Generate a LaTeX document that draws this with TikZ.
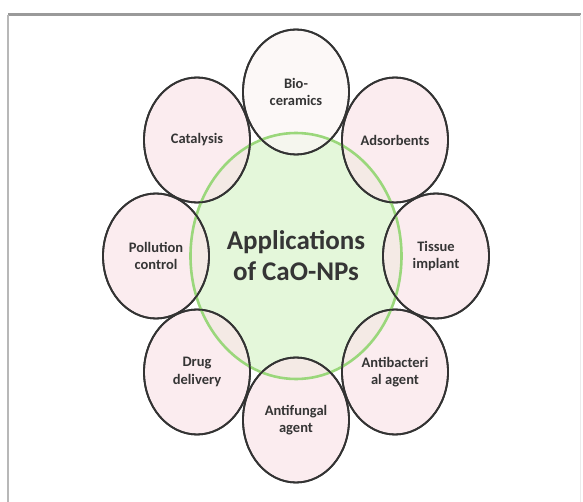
\documentclass[tikz,border=0pt]{standalone}
\usepackage{fontspec}
\setmainfont{Carlito}
\usetikzlibrary{shapes.geometric}
\definecolor{pinkfill}{HTML}{FAE6EA}
\definecolor{palefill}{HTML}{FCF6F5}
\definecolor{greenfill}{HTML}{E4F7DA}
\definecolor{greenline}{HTML}{9AD77B}
\definecolor{outline}{HTML}{333333}
\definecolor{txt}{HTML}{353535}
\definecolor{frametop}{HTML}{9A9A9A}
\definecolor{frameside}{HTML}{B8B8B8}
\definecolor{frameright}{HTML}{EBEBEB}
\tikzset{
  petal/.style={ellipse, minimum width=106pt, minimum height=125pt, inner sep=0pt,
    fill=pinkfill, fill opacity=0.75, text opacity=1, draw=outline, draw opacity=1,
    line width=1.8pt, text=txt, font=\fontsize{14.5}{17.5}\selectfont\bfseries, align=center},
  hub/.style={ellipse, minimum width=211pt, minimum height=246pt, inner sep=0pt,
    fill=greenfill}
}
\begin{document}
\begin{tikzpicture}[x=1pt,y=-1pt]
\useasboundingbox (0,0) rectangle (583,502);
\fill[white] (0,0) rectangle (583,502);
% frame
\draw[frametop, line width=3pt] (8,15) -- (581,15);
\draw[frameside, line width=1.6pt] (8,15) -- (8,502);
\draw[frameright, line width=1pt] (580,15) -- (580,502);
% hub
\node[hub] (hub) at (296,256) {};
% petals
\node[petal, fill=palefill] (bio) at (296,92) {Bio-\\ceramics};
\node[petal] (ads) at (395,140) {Adsorbents};
\node[petal] (tis) at (436,256) {Tissue\\implant};
\node[petal] (abac) at (395,372) {Antibacteri\\al agent};
\node[petal] (afun) at (296,420) {Antifungal\\agent};
\node[petal] (drug) at (197,372) {Drug\\delivery};
\node[petal] (poll) at (156,256) {Pollution\\control};
\node[petal] (cat) at (197,140) {Catalysis};
% hub outline and label
\draw[greenline, line width=2.6pt] (hub.center) ellipse [x radius=105.5pt, y radius=123pt];
\foreach \n in {bio,ads,tis,abac,afun,drug,poll,cat}
  \draw[outline, line width=1.8pt] (\n.center) ellipse [x radius=53pt, y radius=62.5pt];
\node[text=txt, font=\fontsize{27}{31}\selectfont\bfseries, align=center] (hubtext) at (296,256) {Applications\\of CaO-NPs};
\end{tikzpicture}
\end{document}
